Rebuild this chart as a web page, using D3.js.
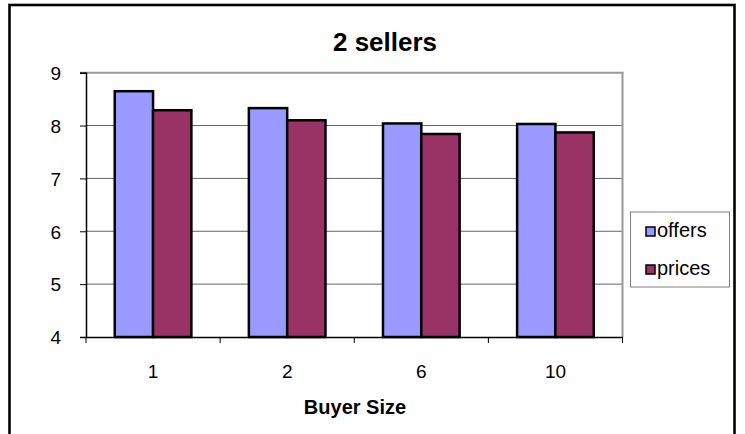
<!DOCTYPE html>
<html><head><meta charset="utf-8">
<script src="https://cdn.jsdelivr.net/npm/d3@7"></script>
<style>body{margin:0;background:#fff}</style>
</head><body>
<svg id="c" width="745" height="434"></svg>
<script>
const categories = ["1", "2", "6", "10"];
const seriesNames = ["offers", "prices"];
const offers = [8.65, 8.33, 8.04, 8.03];
const prices = [8.29, 8.10, 7.84, 7.87];
const yTicks = [4, 5, 6, 7, 8, 9];
const colors = ["#9999FF", "#993366"];
const titleText = "2 sellers";
const xTitle = "Buyer Size";

const svg = d3.select("#c");
const font = "'Liberation Sans', Arial, Helvetica, sans-serif";

svg.append("rect").attr("x", 9.5).attr("y", 5).attr("width", 725).attr("height", 460)
  .attr("fill", "#fff").attr("stroke", "#000").attr("stroke-width", 2.6);

const L = 86, R = 622.5, T = 72.7, B = 337;
const x0 = d3.scaleBand().domain(categories).range([L, R]).padding(0);
const bw = x0.bandwidth();
const groupW = bw * 2 / 3.5;
const offset = (bw - groupW) / 2;
const x1 = d3.scaleBand().domain(seriesNames).range([0, groupW]);
const y = d3.scaleLinear().domain([4, 9]).range([B, T]);

// gridlines
svg.append("g").selectAll("line").data(yTicks.filter(v => v > 4 && v < 9)).join("line")
  .attr("x1", L).attr("x2", R).attr("y1", d => y(d)).attr("y2", d => y(d))
  .attr("stroke", "#666").attr("stroke-width", 1);
// plot border top & right (grey)
svg.append("line").attr("x1", L - 6).attr("x2", R + 1).attr("y1", y(9)).attr("y2", y(9))
  .attr("stroke", "#999").attr("stroke-width", 2);
svg.append("line").attr("x1", R).attr("x2", R).attr("y1", y(9)).attr("y2", B)
  .attr("stroke", "#999").attr("stroke-width", 2);

// y axis
const yAxis = svg.append("g").attr("transform", `translate(${L},0)`)
  .call(d3.axisLeft(y).tickValues(yTicks).tickSize(6).tickPadding(19).tickFormat(d3.format("d")));
yAxis.select(".domain").attr("stroke", "#000").attr("stroke-width", 1.5);
yAxis.selectAll(".tick line").attr("stroke", "#000").attr("stroke-width", 1);
yAxis.selectAll(".tick text")
  .attr("x", -25).attr("dy", "0.36em").attr("text-anchor", "end")
  .style("font-family", font).style("font-size", "19px").attr("fill", "#000");

// bars
const data = categories.map((c, i) => ({ c, vals: [offers[i], prices[i]] }));
const groups = svg.append("g").selectAll("g").data(data).join("g")
  .attr("transform", d => `translate(${x0(d.c) + offset},0)`);
groups.selectAll("rect").data(d => d.vals.map((v, j) => ({ v, s: seriesNames[j], j }))).join("rect")
  .attr("x", d => x1(d.s)).attr("width", x1.bandwidth())
  .attr("y", d => y(d.v)).attr("height", d => B - y(d.v))
  .attr("fill", d => colors[d.j]).attr("stroke", "#000").attr("stroke-width", 2.5);

// x axis
const xAxis = svg.append("g").attr("transform", `translate(0,${B})`)
  .call(d3.axisBottom(x0).tickSize(0).tickPadding(0));
xAxis.select(".domain").attr("stroke", "#000").attr("stroke-width", 1.5);
xAxis.selectAll(".tick text")
  .style("font-family", font).style("font-size", "19px").attr("fill", "#000")
  .attr("y", 41).attr("dy", 0);
const bounds = categories.map(c => x0(c)).concat([R]);
svg.append("g").selectAll("line").data(bounds).join("line")
  .attr("x1", d => d).attr("x2", d => d).attr("y1", B).attr("y2", B + 6)
  .attr("stroke", "#000").attr("stroke-width", 1);

// titles
svg.append("text").attr("x", 385).attr("y", 51).attr("text-anchor", "middle")
  .style("font-family", font).style("font-weight", "bold").style("font-size", "26px").text(titleText);
svg.append("text").attr("x", 355).attr("y", 414).attr("text-anchor", "middle")
  .style("font-family", font).style("font-weight", "bold").style("font-size", "20px").text(xTitle);

// legend
const lg = svg.append("g");
lg.append("rect").attr("x", 630.5).attr("y", 212).attr("width", 99).attr("height", 75)
  .attr("fill", "#fff").attr("stroke", "#808080").attr("stroke-width", 1);
const items = lg.selectAll("g").data(seriesNames).join("g")
  .attr("transform", (d, i) => `translate(0,${i * 38})`);
items.append("rect").attr("x", 646).attr("y", 227).attr("width", 9).attr("height", 9)
  .attr("fill", (d, i) => colors[i]).attr("stroke", "#000").attr("stroke-width", 1.5);
items.append("text").attr("x", 657).attr("y", 237)
  .style("font-family", font).style("font-size", "20px")
  .attr("fill", "#000").text(d => d);
</script>
</body></html>
